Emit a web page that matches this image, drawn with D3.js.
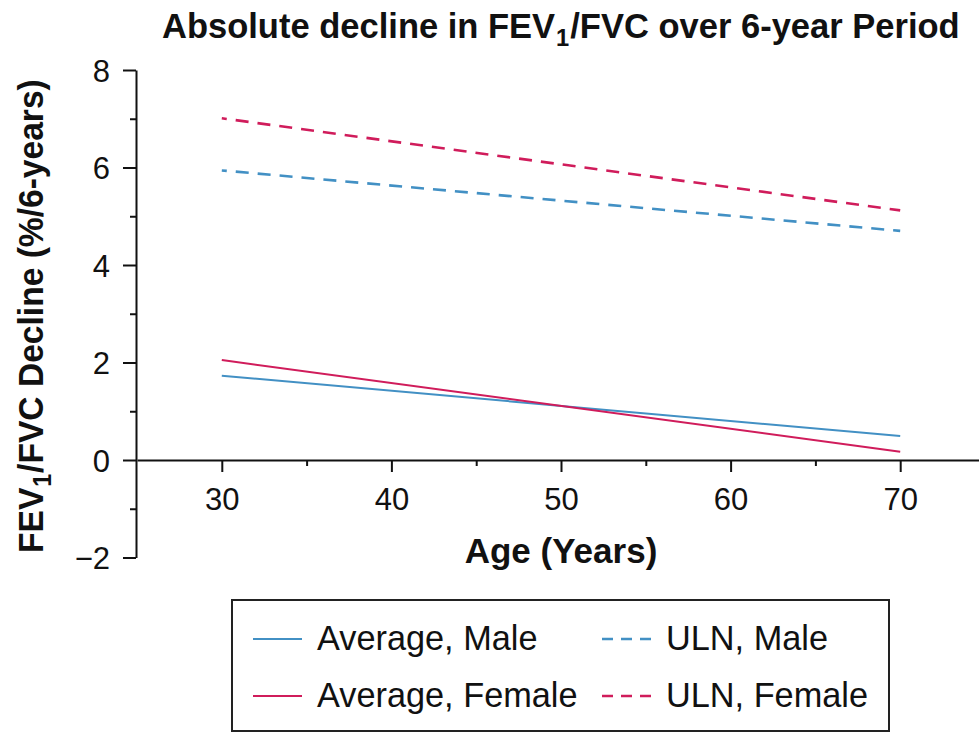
<!DOCTYPE html>
<html lang="en">
<head>
<meta charset="UTF-8">
<title>FEV1/FVC decline</title>
<script src="https://cdn.jsdelivr.net/npm/d3@7"></script>
<style>
  body { margin: 0; background: #fff; }
  text { font-family: "Liberation Sans", Arial, Helvetica, sans-serif; fill: #111; }
</style>
</head>
<body>
<div id="chart"></div>
<script>
// data
const ages = [30, 70];
const avgMale = [1.73, 0.49];
const avgFemale = [2.05, 0.17];
const ulnMale = [5.94, 4.70];
const ulnFemale = [7.01, 5.12];
const seriesNames = ["Average, Male", "ULN, Male", "Average, Female", "ULN, Female"];

const yTicks = [-2, 0, 2, 4, 6, 8];
const yMinor = [-1, 1, 3, 5, 7];
const xTicks = [30, 40, 50, 60, 70];
const xMinor = [35, 45, 55, 65];

const W = 979, H = 733;
const blue = "#4290c4", red = "#d01c5b";

const svg = d3.select("#chart").append("svg")
    .attr("width", W).attr("height", H);

const x = d3.scaleLinear().domain([25, 75]).range([137, 985]);
const y = d3.scaleLinear().domain([-2, 8]).range([557.5, 70]);

// y axis
const yAx = svg.append("g").attr("transform", "translate(136,0)")
    .call(d3.axisLeft(y).tickValues(yTicks).tickSize(13).tickSizeOuter(0)
        .tickFormat(d => d < 0 ? "\u2212" + Math.abs(d) : d));
yAx.selectAll("text").attr("font-size", 31).attr("x", -26).attr("dy", "0.36em")
    .style("font-family", "'Liberation Sans', Arial, sans-serif").attr("fill", "#111");
svg.append("g").attr("transform", "translate(136,0)")
    .call(d3.axisLeft(y).tickValues(yMinor).tickSize(6).tickSizeOuter(0).tickFormat(""))
    .select(".domain").remove();

// x axis at y = 0, line runs off the right edge
const xAx = svg.append("g").attr("transform", "translate(0," + y(0) + ")")
    .call(d3.axisBottom(x).tickValues(xTicks).tickSize(12).tickSizeOuter(0));
xAx.selectAll("text").attr("font-size", 31).attr("y", 28).attr("dy", "0.71em")
    .style("font-family", "'Liberation Sans', Arial, sans-serif").attr("fill", "#111");
svg.append("g").attr("transform", "translate(0," + y(0) + ")")
    .call(d3.axisBottom(x).tickValues(xMinor).tickSize(6).tickSizeOuter(0).tickFormat(""))
    .select(".domain").remove();

svg.selectAll(".domain, .tick line").attr("stroke", "#111").attr("stroke-width", 2);

// lines
const line = d3.line().x((d, i) => x(ages[i])).y(d => y(d));
const series = [
  {v: ulnFemale, c: red, dash: true},
  {v: ulnMale, c: blue, dash: true},
  {v: avgMale, c: blue, dash: false},
  {v: avgFemale, c: red, dash: false}
];
series.forEach(s => {
  svg.append("path").datum(s.v).attr("d", line)
    .attr("fill", "none").attr("stroke", s.c)
    .attr("stroke-width", s.dash ? 2.6 : 2)
    .attr("stroke-dasharray", s.dash ? "13,9" : null)
    .attr("stroke-dashoffset", s.dash ? 8 : null);
});

// squeeze a text horizontally (in its own frame) to a target width
function fitWidth(t, target, base) {
  const w = t.node().getBBox().width;
  t.attr("transform", base + " scale(" + (target / w) + ",1)");
}

// title
const title = svg.append("text").attr("font-size", 35).attr("font-weight", "bold");
title.append("tspan").text("Absolute decline in FEV");
title.append("tspan").text("1").attr("font-size", 24).attr("dy", 8).attr("dx", 1);
title.append("tspan").text("/FVC over 6-year Period").attr("dy", -8).attr("dx", 1);
fitWidth(title, 798, "translate(162,38)");

// y axis title
const yt = svg.append("text").attr("font-size", 36).attr("font-weight", "bold");
yt.append("tspan").text("FEV");
yt.append("tspan").text("1").attr("font-size", 25).attr("dy", 8).attr("dx", 1);
yt.append("tspan").text("/FVC Decline (%/6-years)").attr("dy", -8).attr("dx", 1);
fitWidth(yt, 474, "translate(43,553) rotate(-90)");

// x axis title
svg.append("text").attr("x", 561).attr("y", 563).attr("text-anchor", "middle")
    .attr("font-size", 35).attr("font-weight", "bold")
    .text("Age (Years)");

// legend
svg.append("rect").attr("x", 232).attr("y", 600).attr("width", 657).attr("height", 131)
    .attr("fill", "none").attr("stroke", "#222").attr("stroke-width", 2);
const legendCols = [253, 602];
const legendRows = [639, 696];
const legendItems = [
  {name: seriesNames[0], c: blue, dash: false, col: 0, row: 0},
  {name: seriesNames[1], c: blue, dash: true, col: 1, row: 0},
  {name: seriesNames[2], c: red, dash: false, col: 0, row: 1},
  {name: seriesNames[3], c: red, dash: true, col: 1, row: 1}
];
legendItems.forEach(it => {
  const lx = legendCols[it.col], ly = legendRows[it.row];
  svg.append("line").attr("x1", lx).attr("x2", lx + 49).attr("y1", ly).attr("y2", ly)
    .attr("stroke", it.c).attr("stroke-width", it.dash ? 2.4 : 2)
    .attr("stroke-dasharray", it.dash ? "11,8" : null);
  svg.append("text").attr("x", lx + 64).attr("y", ly + 11)
    .attr("font-size", 34.3).text(it.name);
});
</script>
</body>
</html>
